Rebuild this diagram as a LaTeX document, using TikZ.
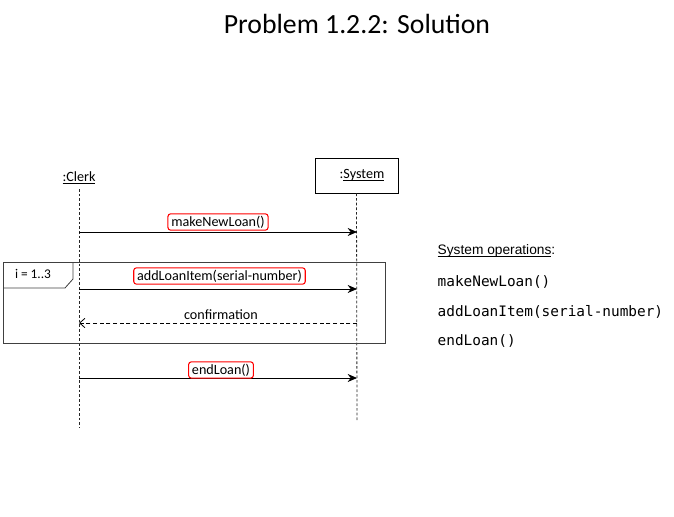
\documentclass[tikz,border=0pt]{standalone}
\usepackage{fontspec}
\setmainfont{Carlito}
\newfontfamily\opsfont{Liberation Sans}
\newfontfamily\codefont{DejaVu Sans Mono}
\usetikzlibrary{arrows.meta}
\usetikzlibrary{positioning}

\newcommand{\uln}[1]{\underline{\smash{#1}}}

\tikzset{
  msg/.style={draw=red,line width=0.8pt,rounded corners=2pt,fill=white,inner xsep=2.5pt,inner ysep=1.5pt,font=\fontsize{10.6}{12}\selectfont},
  call/.style={draw=black,semithick,-{Stealth[length=7pt,width=6pt]}},
  reply/.style={draw=black,semithick,dash pattern=on 3pt off 2pt,-{Straight Barb[length=4pt,width=7pt]}},
  life/.style={draw=black!85,semithick,dash pattern=on 2pt off 1.5pt},
  code/.style={anchor=west,font=\codefont\fontsize{10.8}{13}\selectfont}
}

\begin{document}
\begin{tikzpicture}[x=0.75pt,y=-0.75pt]
    \useasboundingbox (0,0) rectangle (674,517);
    \node (title) at (357,24) {\fontsize{20.8}{24}\selectfont Problem 1.2.2: Solution};
    % objects
    \node (clerk) at (79,183) {\fontsize{10.6}{12}\selectfont\uln{:Clerk}};
    \node[draw,semithick,minimum width=62.25pt,minimum height=26.25pt] (sys) at (356.5,175.5) {};
    \node (syslabel) at (362,177) {\fontsize{10.6}{12}\selectfont:\uln{System}};
    \coordinate (clerkend) at (79,428);
    \coordinate (sysend) at (357,422);
    \path (clerk.south) edge[life] (clerkend);
    \path (sys.south) edge[life] (sysend);
    % loop frame
    \draw[semithick,black!75] (3,262) rectangle (385,343);
    \draw[semithick,black!75] (3,288) -- (65,288) -- (73,279) -- (73,262);
    \node (tag) at (33,274) {\fontsize{10}{12}\selectfont i = 1..3};
    % points on the lifelines
    \coordinate (c1) at (79,232);  \coordinate (s1) at (357,232);
    \coordinate (c2) at (79,289);  \coordinate (s2) at (357,289);
    \coordinate (c3) at (79,323);  \coordinate (s3) at (357,323);
    \coordinate (c4) at (79,378);  \coordinate (s4) at (357,378);
    % messages
    \path (c1) edge[call] (s1);
    \path (c2) edge[call] (s2);
    \path (s3) edge[reply] (c3);
    \path (c4) edge[call] (s4);
    \node[msg] (m1) at (218,222) {makeNewLoan()};
    \node[msg] (m2) at (219.5,276) {addLoanItem(serial-number)};
    \node[font=\fontsize{10.6}{12}\selectfont] (m3) at (221,315) {confirmation};
    \node[msg] (m4) at (221,370) {endLoan()};
    % system operations
    \node[anchor=west,font=\opsfont\fontsize{10.3}{12}\selectfont] (ops) at (433,252) {\uln{System operations}:};
    \node[code] (op1) at (433,282) {makeNewLoan()};
    \node[code] (op2) at (433,312) {addLoanItem(serial-number)};
    \node[code] (op3) at (433,341) {endLoan()};
\end{tikzpicture}
\end{document}
